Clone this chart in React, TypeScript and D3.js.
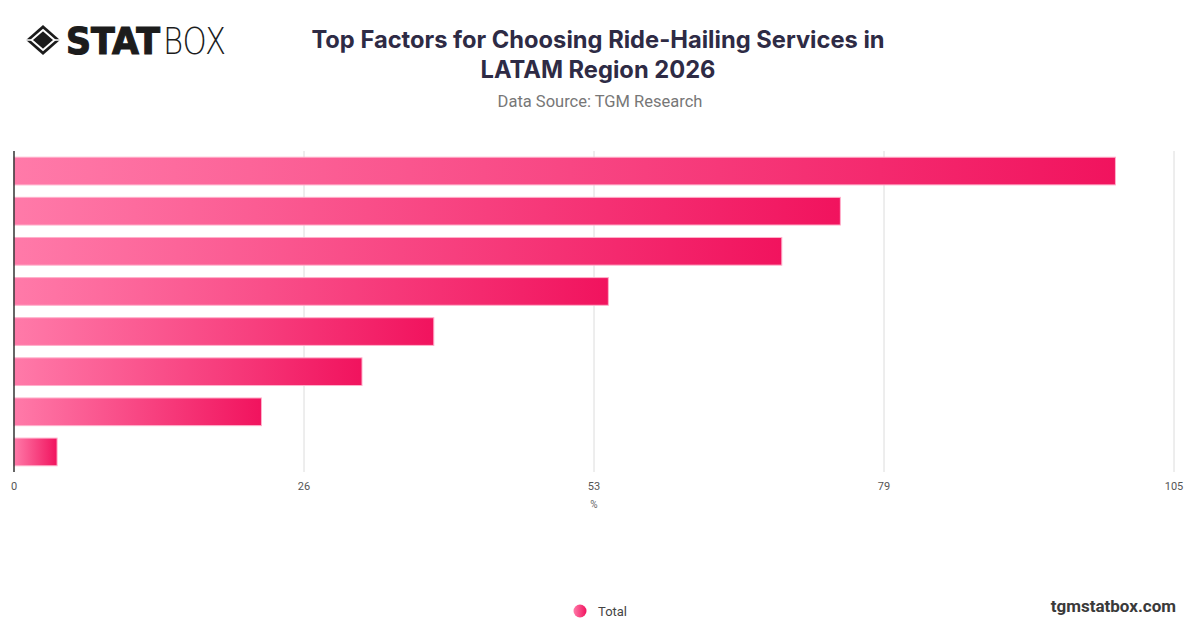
import * as d3 from "d3";
import { useMemo } from "react";

// bar values, top to bottom (category labels are not shown in the chart)
const factorIds = ["f1", "f2", "f3", "f4", "f5", "f6", "f7", "f8"];
const totalValues = [99.7, 74.8, 69.5, 53.8, 38.0, 31.5, 22.4, 3.9];
const xTickValues = [0, 26.25, 52.5, 78.75, 105];
const seriesName = "Total";
const titleLines = ["Top Factors for Choosing Ride-Hailing Services in", "LATAM Region 2026"];
const subtitle = "Data Source: TGM Research";

const W = 1200;
const H = 628;
const plot = { left: 14, right: 1174, top: 151, bottom: 472 };

export default function App() {
  const x = useMemo(
    () => d3.scaleLinear().domain([0, 105]).range([plot.left, plot.right]),
    []
  );
  const y = useMemo(
    () =>
      d3
        .scaleBand<string>()
        .domain(factorIds)
        .range([plot.top, plot.bottom])
        .paddingInner(0.31)
        .paddingOuter(0.155),
    []
  );

  const rows = factorIds.map((id, i) => ({ id, value: totalValues[i] }));

  return (
    <svg
      width={W}
      height={H}
      style={{ position: "absolute", left: 0, top: 0, background: "#fff" }}
      fontFamily="Roboto, 'Liberation Sans', sans-serif"
    >
      <defs>
        <linearGradient id="barGrad" x1="0" y1="0" x2="1" y2="0">
          <stop offset="0%" stopColor="#ff7aa9" />
          <stop offset="100%" stopColor="#f1135e" />
        </linearGradient>
      </defs>
      <rect width={W} height={H} fill="#fff" />

      {/* logo */}
      <g transform="translate(43,40)">
        <path d="M0,-15 L17,0 L0,15 L-17,0 Z" fill="#1c1c1c" />
        <path d="M0,-10 L11.5,0 L0,10 L-11.5,0 Z" fill="none" stroke="#fff" strokeWidth={2} />
        <path d="M0,-6.5 L7.5,0 L0,6.5 L-7.5,0 Z" fill="#1c1c1c" />
        <line x1={-17} y1={0} x2={-11} y2={0} stroke="#fff" strokeWidth={1.5} />
        <line x1={17} y1={0} x2={11} y2={0} stroke="#fff" strokeWidth={1.5} />
      </g>
      <text
        x={66}
        y={54}
        fontFamily="'DejaVu Sans', sans-serif"
        fontWeight={900}
        fontSize={37}
        fill="#1c1c1c"
        stroke="#1c1c1c"
        strokeWidth={1.2}
        textLength={94}
        lengthAdjust="spacingAndGlyphs"
      >
        STAT
      </text>
      <text
        x={163}
        y={54}
        fontFamily="'DejaVu Sans', sans-serif"
        fontWeight={200}
        fontSize={37}
        fill="#1c1c1c"
        textLength={63}
        lengthAdjust="spacingAndGlyphs"
      >
        BOX
      </text>

      {/* title */}
      {titleLines.map((t, i) => (
        <text
          key={t}
          x={598}
          y={48 + i * 30}
          textAnchor="middle"
          fontFamily="Inter, sans-serif"
          fontWeight={700}
          fontSize={23.7}
          fill="#2e2b45"
        >
          {t}
        </text>
      ))}
      <text x={600} y={107} textAnchor="middle" fontSize={16.5} fill="#777">
        {subtitle}
      </text>

      {/* grid */}
      {xTickValues.slice(1).map((t) => (
        <line
          key={t}
          x1={x(t)}
          x2={x(t)}
          y1={plot.top}
          y2={plot.bottom}
          stroke="#dcdcdc"
          strokeWidth={1}
        />
      ))}

      {/* bars */}
      {rows.map((r) => (
        <rect
          key={r.id}
          x={x(0)}
          y={y(r.id)}
          width={x(r.value) - x(0)}
          height={y.bandwidth()}
          fill="url(#barGrad)"
          stroke="#ffb0cb"
          strokeWidth={1}
        />
      ))}

      {/* y axis line */}
      <line x1={plot.left} x2={plot.left} y1={plot.top} y2={plot.bottom} stroke="#333" strokeWidth={1.5} />

      {/* x tick labels */}
      {xTickValues.map((t) => (
        <text key={t} x={x(t)} y={490} textAnchor="middle" fontSize={11} fill="#555">
          {Math.round(t)}
        </text>
      ))}
      <text x={(plot.left + plot.right) / 2} y={508} textAnchor="middle" fontSize={10} fill="#666">
        %
      </text>

      {/* legend */}
      <circle cx={580} cy={611} r={6.5} fill="url(#barGrad)" />
      <text x={598} y={615.5} fontSize={13} fill="#444">
        {seriesName}
      </text>

      {/* watermark */}
      <text
        x={1176}
        y={612}
        textAnchor="end"
        fontWeight={700}
        fontSize={17}
        fill="#3a3a3a"
      >
        tgmstatbox.com
      </text>
    </svg>
  );
}
